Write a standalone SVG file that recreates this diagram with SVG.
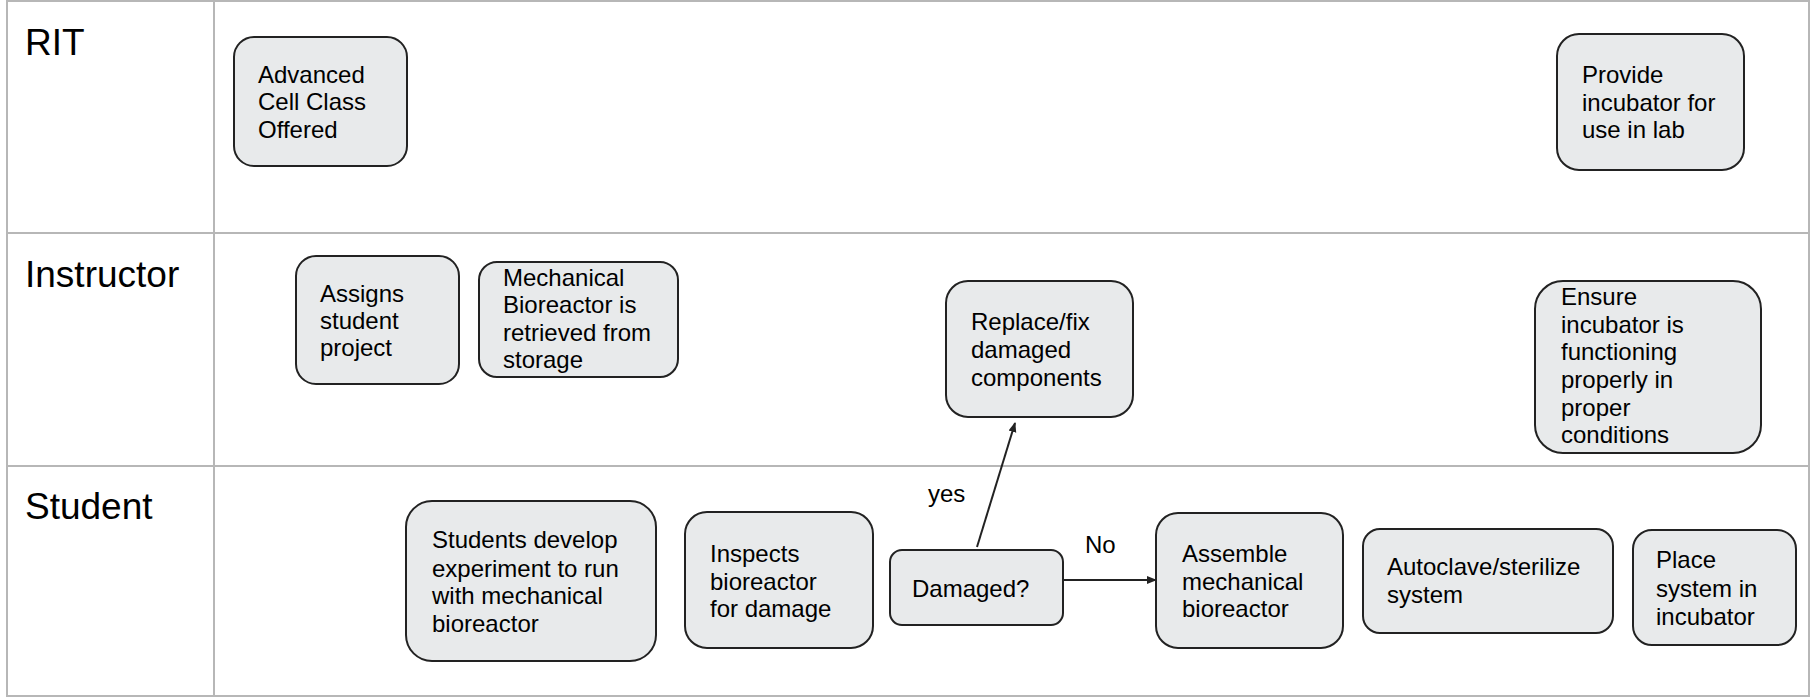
<svg xmlns="http://www.w3.org/2000/svg" width="1812" height="697" viewBox="0 0 1812 697">
<style>
.lane{fill:none;stroke:#b7b7b7;stroke-width:2}
.lt{font-family:"Liberation Sans",Arial,sans-serif;font-size:37px;fill:#000}
.box{fill:#e8eaeb;stroke:#222;stroke-width:2}
.t{font-family:"Liberation Sans",Arial,sans-serif;font-size:24px;fill:#000}
.edge{fill:none;stroke:#222;stroke-width:2}
</style>
<defs>
<marker id="ah" markerWidth="10" markerHeight="10" refX="9" refY="5" orient="auto" markerUnits="userSpaceOnUse">
<path d="M0,1 L10,5 L0,9 Z" fill="#222"/>
</marker>
</defs>
<rect width="1812" height="697" fill="#fff"/>
<g id="lanes">
<rect class="lane" x="7" y="1" width="1802" height="695"/>
<line class="lane" x1="214" y1="1" x2="214" y2="696"/>
<line class="lane" x1="7" y1="233" x2="1809" y2="233"/>
<line class="lane" x1="7" y1="466" x2="1809" y2="466"/>
<text class="lt" x="25" y="55">RIT</text>
<text class="lt" x="25" y="287">Instructor</text>
<text class="lt" x="25" y="519">Student</text>
</g>
<g id="n1"><rect class="box" x="234" y="37" width="173" height="129" rx="20"/>
<text class="t"><tspan x="258" y="83">Advanced</tspan><tspan x="258" y="110">Cell Class</tspan><tspan x="258" y="138">Offered</tspan></text></g>
<g id="n2"><rect class="box" x="1557" y="34" width="187" height="136" rx="22"/>
<text class="t"><tspan x="1582" y="83">Provide</tspan><tspan x="1582" y="111">incubator for</tspan><tspan x="1582" y="138">use in lab</tspan></text></g>
<g id="n3"><rect class="box" x="296" y="256" width="163" height="128" rx="20"/>
<text class="t"><tspan x="320" y="302">Assigns</tspan><tspan x="320" y="329">student</tspan><tspan x="320" y="356">project</tspan></text></g>
<g id="n4"><rect class="box" x="479" y="262" width="199" height="115" rx="18"/>
<text class="t"><tspan x="503" y="286">Mechanical</tspan><tspan x="503" y="313">Bioreactor is</tspan><tspan x="503" y="341">retrieved from</tspan><tspan x="503" y="368">storage</tspan></text></g>
<g id="n5"><rect class="box" x="946" y="281" width="187" height="136" rx="22"/>
<text class="t"><tspan x="971" y="330">Replace/fix</tspan><tspan x="971" y="358">damaged</tspan><tspan x="971" y="386">components</tspan></text></g>
<g id="n6"><rect class="box" x="1535" y="281" width="226" height="172" rx="28"/>
<text class="t"><tspan x="1561" y="305">Ensure</tspan><tspan x="1561" y="333">incubator is</tspan><tspan x="1561" y="360">functioning</tspan><tspan x="1561" y="388">properly in</tspan><tspan x="1561" y="416">proper</tspan><tspan x="1561" y="443">conditions</tspan></text></g>
<g id="n7"><rect class="box" x="406" y="501" width="250" height="160" rx="26"/>
<text class="t"><tspan x="432" y="548">Students develop</tspan><tspan x="432" y="577">experiment to run</tspan><tspan x="432" y="604">with mechanical</tspan><tspan x="432" y="632">bioreactor</tspan></text></g>
<g id="n8"><rect class="box" x="685" y="512" width="188" height="136" rx="22"/>
<text class="t"><tspan x="710" y="562">Inspects</tspan><tspan x="710" y="590">bioreactor</tspan><tspan x="710" y="617">for damage</tspan></text></g>
<g id="n9"><rect class="box" x="890" y="550" width="173" height="75" rx="12"/>
<text class="t" x="912" y="597">Damaged?</text></g>
<g id="n10"><rect class="box" x="1156" y="513" width="187" height="135" rx="22"/>
<text class="t"><tspan x="1182" y="562">Assemble</tspan><tspan x="1182" y="590">mechanical</tspan><tspan x="1182" y="617">bioreactor</tspan></text></g>
<g id="n11"><rect class="box" x="1363" y="529" width="250" height="104" rx="17"/>
<text class="t"><tspan x="1387" y="575">Autoclave/sterilize</tspan><tspan x="1387" y="603">system</tspan></text></g>
<g id="n12"><rect class="box" x="1633" y="530" width="163" height="115" rx="19"/>
<text class="t"><tspan x="1656" y="568">Place</tspan><tspan x="1656" y="597">system in</tspan><tspan x="1656" y="625">incubator</tspan></text></g>
<g id="connectors">
<line class="edge" x1="977" y1="547" x2="1015" y2="423" marker-end="url(#ah)"/>
<text class="t" x="928" y="502">yes</text>
<line class="edge" x1="1063" y1="580" x2="1156" y2="580" marker-end="url(#ah)"/>
<text class="t" x="1085" y="553">No</text>
</g>
</svg>
